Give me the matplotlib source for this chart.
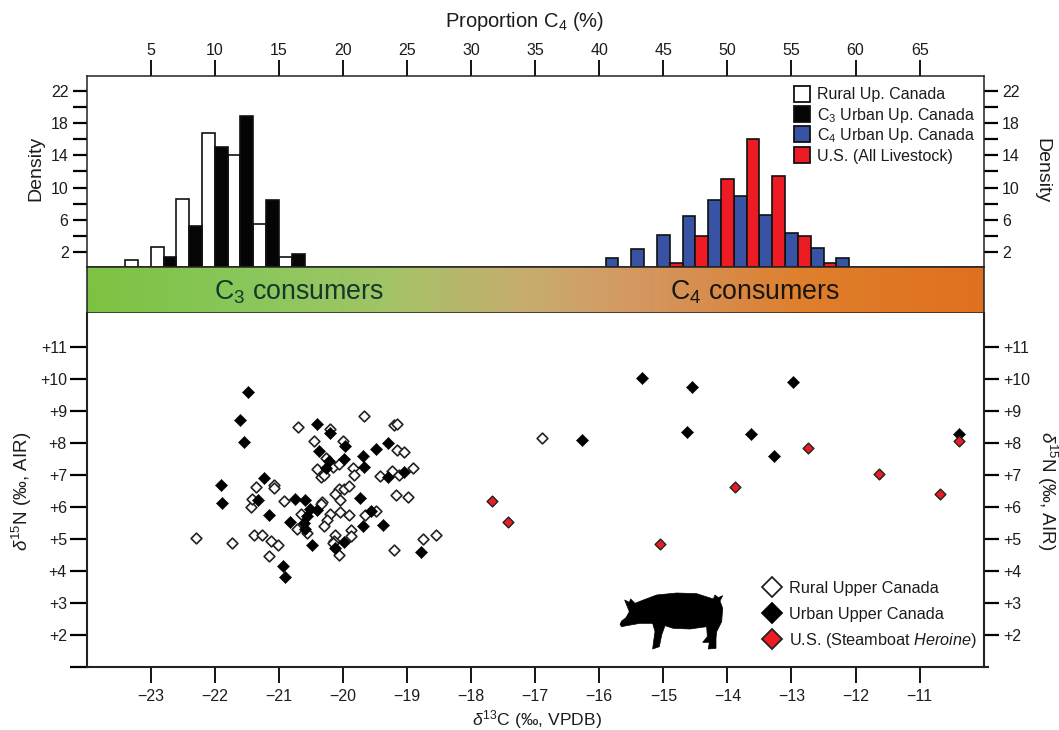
import numpy as np
import matplotlib
matplotlib.use("Agg")
import matplotlib.pyplot as plt
from matplotlib.colors import LinearSegmentedColormap
from matplotlib.legend_handler import HandlerLine2D, HandlerPatch
from matplotlib.lines import Line2D
from matplotlib.patches import Patch, Polygon, Rectangle

plt.rcParams['font.family'] = ['Liberation Sans', 'DejaVu Sans']
plt.rcParams['mathtext.fontset'] = 'custom'
plt.rcParams['mathtext.rm'] = 'Liberation Sans'
plt.rcParams['mathtext.it'] = 'Liberation Sans:italic'
plt.rcParams['mathtext.bf'] = 'Liberation Sans:bold'
plt.rcParams['mathtext.default'] = 'regular'

# Histogram data (proportion C4 bin left edge, density)
rural_bins = [3, 5, 7, 9, 11, 13, 15]
rural_dens = [0.9, 2.6, 8.6, 16.8, 14.0, 5.5, 1.3]
c3_bins = [6, 8, 10, 12, 14, 16]
c3_dens = [1.3, 5.2, 15.0, 18.9, 8.4, 1.7]
c4_bins = [40.5, 42.5, 44.5, 46.5, 48.5, 50.5, 52.5, 54.5, 56.5, 58.5]
c4_dens = [1.25, 2.3, 4.1, 6.45, 8.4, 9.0, 6.55, 4.3, 2.4, 1.25]
us_bins = [45.5, 47.5, 49.5, 51.5, 53.5, 55.5, 57.5]
us_dens = [0.55, 4.0, 11.1, 16.05, 11.4, 4.0, 0.55]

# Scatter data
rural_c = [-22.29, -21.74, -21.39, -21.26, -21.12, -21.01, -21.16, -21.44, -21.42, -21.35, -21.07, -21.07,
           -20.92, -20.70, -20.45, -20.21, -20.00, -19.67, -19.20, -19.16, -19.15, -19.04, -20.27, -20.41,
           -20.35, -20.30, -20.15, -20.07, -19.84, -19.83, -19.42, -19.24, -19.12, -18.91, -20.07, -20.13,
           -19.98, -19.90, -19.17, -18.99, -20.33, -20.35, -20.04, -20.65, -20.71, -20.56, -20.20, -20.04,
           -19.90, -20.25, -20.29, -19.65, -19.48, -19.88, -19.88, -20.13, -20.14, -20.16, -20.06, -19.21,
           -18.75, -18.55, -16.90]
rural_n = [5.05, 4.89, 5.12, 5.12, 4.96, 4.81, 4.47, 6.02, 6.25, 6.64, 6.69, 6.60,
           6.21, 8.52, 8.06, 8.44, 8.08, 8.85, 8.58, 8.59, 7.79, 7.74, 7.55, 7.20,
           6.96, 7.02, 7.27, 7.34, 7.23, 7.00, 6.97, 7.12, 7.02, 7.24, 6.58, 6.42,
           6.56, 6.66, 6.37, 6.32, 6.16, 6.09, 6.22, 5.80, 5.33, 5.19, 5.80, 5.85,
           5.75, 5.60, 5.41, 5.75, 5.88, 5.29, 5.10, 5.12, 4.95, 4.87, 4.50, 4.66,
           5.02, 5.12, 8.16]
urban_c = [-21.49, -21.60, -21.54, -21.91, -21.89, -21.24, -21.33, -21.15, -20.82, -20.75, -20.59, -20.52,
           -20.40, -20.56, -20.61, -20.60, -20.48, -20.94, -20.90, -20.41, -20.21, -19.97, -20.38, -20.22,
           -20.26, -19.98, -19.68, -19.67, -19.49, -19.29, -19.30, -19.04, -19.74, -19.57, -19.69, -19.38,
           -19.98, -20.13, -18.79, -16.27, -15.33, -14.55, -14.63, -13.63, -13.27, -12.97, -10.38]
urban_n = [9.59, 8.74, 8.05, 6.70, 6.12, 6.91, 6.22, 5.76, 5.54, 6.27, 6.24, 5.96,
           5.93, 5.73, 5.52, 5.31, 4.81, 4.16, 3.83, 8.59, 8.33, 7.91, 7.76, 7.45,
           7.24, 7.50, 7.60, 7.27, 7.83, 8.00, 6.96, 7.10, 6.29, 5.89, 5.41, 5.46,
           4.91, 4.74, 4.60, 8.10, 10.03, 9.77, 8.35, 8.30, 7.60, 9.92, 8.30]
us_c = [-17.67, -17.42, -15.05, -13.88, -12.75, -11.63, -10.68, -10.38]
us_n = [6.20, 5.55, 4.85, 6.63, 7.85, 7.05, 6.40, 8.07]

prop_ticks = [5, 10, 15, 20, 25, 30, 35, 40, 45, 50, 55, 60, 65]
dens_ticks = [2, 4, 6, 8, 10, 12, 14, 16, 18, 20, 22]
dens_labels = ['2', '', '6', '', '10', '', '14', '', '18', '', '22']
c_ticks = [-23, -22, -21, -20, -19, -18, -17, -16, -15, -14, -13, -12, -11]
n_ticks = [2, 3, 4, 5, 6, 7, 8, 9, 10, 11]

W, H = 1059, 730
INK = '#1c1c1c'
plt.rcParams['text.color'] = INK
plt.rcParams['axes.labelcolor'] = INK
plt.rcParams['xtick.labelcolor'] = INK
plt.rcParams['ytick.labelcolor'] = INK

fig = plt.figure(figsize=(W / 100, H / 100), dpi=100)


def box(x0, y0, x1, y1):
    return [x0 / W, 1 - y1 / H, (x1 - x0) / W, (y1 - y0) / H]


L, R = 86.7, 983.7
pt = 72 / 100  # points per pixel

# ---------- histogram panel
ax = fig.add_axes(box(L, 76.3, R, 266.7))
ax.set_xlim(0, 70)
ax.set_ylim(0.125, 23.87)
kw = dict(width=1, align='edge', linewidth=1.2, edgecolor='#111111')
ax.bar(rural_bins, rural_dens, color='white', **kw)
ax.bar(c3_bins, c3_dens, color='#050505', **kw)
ax.bar(c4_bins, c4_dens, color='#3953A4', **kw)
ax.bar(us_bins, us_dens, color='#ED1C24', **kw)
for s in ax.spines.values():
    s.set_linewidth(1.1)
    s.set_color('#222222')
ax.set_xticks(prop_ticks)
ax.set_yticks(dens_ticks)
ax.set_yticklabels(dens_labels)
ax.tick_params(axis='x', top=True, labeltop=True, bottom=False, labelbottom=False,
               length=16 * pt, width=1.3, labelsize=11.5, pad=1.5)
ax.tick_params(axis='y', left=True, right=True, labelleft=True, labelright=True,
               length=14 * pt, width=1.6, labelsize=11.5, pad=3)
ax.xaxis.set_label_position('top')
ax.set_xlabel('Proportion C$_4$ (%)', fontsize=14.5)
ax.xaxis.set_label_coords(525 / W, 1 - 21.5 / H, transform=fig.transFigure)
ax.xaxis.label.set_verticalalignment('center')
ax.set_ylabel('Density', fontsize=14)
ax.yaxis.set_label_coords(36 / W, 1 - 168 / H, transform=fig.transFigure)
ax.yaxis.label.set_verticalalignment('center')
fig.text(1042 / W, 1 - 171 / H, 'Density', fontsize=14, rotation=270, ha='center', va='center')


def square_key(legend, orig_handle, xdescent, ydescent, width, height, fontsize):
    side = width
    return Rectangle((-xdescent, fontsize * 0.36 - side / 2), side, side)


class CentredMarker(HandlerLine2D):
    def create_artists(self, legend, orig_handle, xdescent, ydescent, width, height, fontsize, trans):
        artists = super().create_artists(legend, orig_handle, xdescent, ydescent, width, height, fontsize, trans)
        for a in artists:
            a.set_ydata(np.full_like(np.asarray(a.get_ydata(), dtype=float), fontsize * 0.36))
        return artists


handles = [
    Patch(facecolor='white', edgecolor='#111111', linewidth=1.3, label='Rural Up. Canada'),
    Patch(facecolor='#050505', edgecolor='#111111', linewidth=1.3, label='C$_3$ Urban Up. Canada'),
    Patch(facecolor='#3953A4', edgecolor='#111111', linewidth=1.3, label='C$_4$ Urban Up. Canada'),
    Patch(facecolor='#ED1C24', edgecolor='#111111', linewidth=1.3, label='U.S. (All Livestock)'),
]
ax.legend(handles=handles, frameon=False, fontsize=11.5, loc='upper left',
          bbox_to_anchor=(794 / W, 1 - 84 / H), bbox_transform=fig.transFigure,
          borderaxespad=0, borderpad=0, handlelength=1.0, handleheight=1.58,
          handletextpad=0.45, labelspacing=0,
          handler_map={Patch: HandlerPatch(patch_func=square_key)})

# ---------- gradient band
band = fig.add_axes(box(L, 266.7, R, 312.7))
cmap = LinearSegmentedColormap.from_list('band', [
    (0.00, '#7DC242'), (0.18, '#8AC75C'), (0.33, '#A2C466'), (0.48, '#C6AE70'),
    (0.60, '#D49A64'), (0.70, '#D78C4B'), (0.80, '#DF7F2C'), (1.00, '#E0701F')])
band.imshow(np.linspace(0, 1, 400).reshape(1, -1), aspect='auto', cmap=cmap, extent=(0, 1, 0, 1))
band.set_xticks([])
band.set_yticks([])
for s in band.spines.values():
    s.set_linewidth(1.1)
    s.set_color('#222222')
band.text((299 - L) / (R - L), 0.45, 'C$_3$ consumers', fontsize=19.3, color='#12392a',
          ha='center', va='center', transform=band.transAxes)
band.text((755 - L) / (R - L), 0.45, 'C$_4$ consumers', fontsize=19.3, color='#1a1510',
          ha='center', va='center', transform=band.transAxes)

# ---------- scatter panel
sc = fig.add_axes(box(L, 312.7, R, 667.3))
sc.set_xlim(-24, -10)
sc.set_ylim(1, 12.08)
sc.spines['top'].set_visible(False)
for s in ['left', 'right', 'bottom']:
    sc.spines[s].set_linewidth(1.5)
    sc.spines[s].set_color('#222222')
sc.scatter(rural_c, rural_n, marker='D', s=30, facecolor='white', edgecolor='#222222', linewidth=1.2, zorder=3)
sc.scatter(urban_c, urban_n, marker='D', s=38, facecolor='black', edgecolor='black', linewidth=0.4, zorder=4)
sc.scatter(us_c, us_n, marker='D', s=30, facecolor='#ED1C24', edgecolor='#222222', linewidth=1.0, zorder=5)
sc.set_xticks(c_ticks)
sc.set_xticklabels(['\u2212%d' % abs(v) for v in c_ticks])
sc.set_yticks([1] + n_ticks)
sc.set_yticklabels([''] + ['+%d' % v for v in n_ticks])
sc.tick_params(axis='x', length=16 * pt, width=1.3, labelsize=11.5, pad=4)
sc.tick_params(axis='y', length=17 * pt, width=1.6, labelsize=11.5, pad=2)
sec = sc.secondary_yaxis('right')
sec.set_yticks(n_ticks)
sec.set_yticklabels(['+%d' % v for v in n_ticks])
sec.tick_params(length=15 * pt, width=1.6, labelsize=11.5, pad=3)
sec.spines['right'].set_visible(False)
sc.add_line(Line2D([1, 1.005], [0, 0], transform=sc.transAxes, clip_on=False, color='#222222', linewidth=1.5))
sc.set_xlabel('$\\mathit{\u03b4}^{13}$C (\u2030, VPDB)', fontsize=12.6)
sc.xaxis.set_label_coords(537 / W, 1 - 720 / H, transform=fig.transFigure)
sc.xaxis.label.set_verticalalignment('center')
sc.set_ylabel('$\\mathit{\u03b4}^{15}$N (\u2030, AIR)', fontsize=13.5)
sc.yaxis.set_label_coords(22 / W, 1 - 491 / H, transform=fig.transFigure)
sc.yaxis.label.set_verticalalignment('center')
fig.text(1047 / W, 1 - 491 / H, '$\\mathit{\u03b4}^{15}$N (\u2030, AIR)', fontsize=13.5,
         rotation=270, ha='center', va='center')

leg2 = [
    Line2D([], [], linestyle='none', marker='D', markersize=10, markerfacecolor='white',
           markeredgecolor='#222222', markeredgewidth=1.3, label='Rural Upper Canada'),
    Line2D([], [], linestyle='none', marker='D', markersize=10, markerfacecolor='black',
           markeredgecolor='black', markeredgewidth=1.3, label='Urban Upper Canada'),
    Line2D([], [], linestyle='none', marker='D', markersize=10, markerfacecolor='#ED1C24',
           markeredgecolor='#222222', markeredgewidth=1.3, label='U.S. (Steamboat $\\mathit{Heroine}$)'),
]
sc.legend(handles=leg2, frameon=False, fontsize=11.7, loc='upper left',
          bbox_to_anchor=(763 / W, 1 - 575 / H), bbox_transform=fig.transFigure,
          borderaxespad=0, borderpad=0, handlelength=1.15, handleheight=2.08,
          handletextpad=0.45, labelspacing=0,
          handler_map={Line2D: CentredMarker()})

# ---------- pig silhouette (icon, in figure pixels)
pig_px = [(30, 118), (35, 108), (48, 98), (58, 80), (44, 45), (58, 52), (62, 42), (75, 55), (100, 45), (140, 30),
          (200, 24), (260, 26), (310, 42), (315, 30), (325, 38), (338, 32), (330, 48), (338, 70), (335, 110),
          (320, 140), (318, 160), (318, 190), (295, 192), (298, 172), (278, 172), (292, 155), (290, 125),
          (240, 132), (190, 130), (165, 122), (155, 150), (148, 185), (128, 192), (130, 175), (135, 140),
          (128, 115), (90, 115), (50, 122), (35, 125)]
pig = Polygon([((610 + x / 3) / W, 1 - (585 + y / 3) / H) for x, y in pig_px], closed=True,
              facecolor='black', edgecolor='black', linewidth=0.5, joinstyle='round', transform=fig.transFigure)
fig.add_artist(pig)

fig.savefig('out.png', dpi=100)
